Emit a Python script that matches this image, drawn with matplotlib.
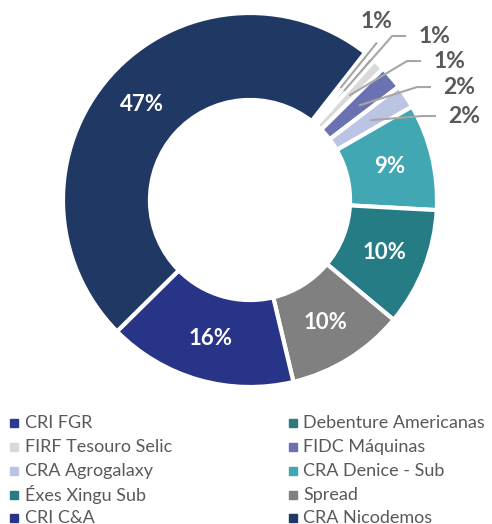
import numpy as np
import matplotlib.pyplot as plt
from matplotlib.lines import Line2D

# ---- data ----
names = ["CRI FGR", "Debenture Americanas", "FIRF Tesouro Selic", "FIDC Máquinas",
         "CRA Agrogalaxy", "CRA Denice - Sub", "Éxes Xingu Sub", "Spread",
         "CRI C&A", "CRA Nicodemos"]
values = [0.5, 0.5, 1.0, 2.0, 2.0, 9.0, 10.0, 10.0, 16.0, 47.0]
labels = ["1%", "1%", "1%", "2%", "2%", "9%", "10%", "10%", "16%", "47%"]
colors = ["#2B3990", "#2E7A7E", "#D9D9D9", "#6A72B2", "#BBC4E3",
          "#41A7B2", "#257C84", "#808080", "#283487", "#203864"]

# small slices get an outside label with a leader line
outside = [True, True, True, True, True, False, False, False, False, False]
outside_pos = [(0.679, 0.952), (0.985, 0.872), (1.065, 0.738), (1.118, 0.599), (1.145, 0.444)]

plt.rcParams["font.family"] = ["Lato", "DejaVu Sans"]

W, H = 492, 524
R = 187.0           # outer radius in pixels
cx, cy = 250, 200   # donut centre in pixels (from top-left)

fig = plt.figure(figsize=(W / 100, H / 100), dpi=100)
ax = fig.add_axes([0, 0, 1, 1])

wedges, _ = ax.pie(values, colors=colors, startangle=52, counterclock=False, radius=1.0,
                   wedgeprops=dict(width=0.465, edgecolor="white", linewidth=3.0))
ax.set_xlim(-cx / R, (W - cx) / R)
ax.set_ylim(-(H - cy) / R, cy / R)
ax.set_aspect("equal")
ax.axis("off")

gray_txt = "#595959"
line_col = "#A6A6A6"
k = 0
for w, lab, out in zip(wedges, labels, outside):
    mid = np.deg2rad((w.theta1 + w.theta2) / 2)
    if not out:
        ax.text(0.77 * np.cos(mid), 0.77 * np.sin(mid), lab, color="white",
                fontsize=16, fontweight="bold", ha="center", va="center")
        continue
    tx, ty = outside_pos[k]
    ax0, ay0 = 0.77 * np.cos(mid), 0.77 * np.sin(mid)
    if k == 0:
        ax.plot([ax0, tx], [ay0, ty - 0.11], color=line_col, lw=1.5, solid_capstyle="butt")
    else:
        ex = tx - 0.15
        ey = ty + 0.005
        ax.plot([ax0, ex - 0.075, ex], [ay0, ey, ey], color=line_col, lw=1.5,
                solid_capstyle="butt")
    ax.text(tx, ty, lab, color=gray_txt, fontsize=16.5, fontweight="bold",
            ha="center", va="center")
    k += 1

# ---- legend (two columns, row-wise order) ----
row_y = [423, 447, 471, 495, 518]
mark_x = [14, 293]
text_x = [25, 303]
for i, (name, c) in enumerate(zip(names, colors)):
    col, row = i % 2, i // 2
    fy = 1 - row_y[row] / H
    fig.add_artist(Line2D([mark_x[col] / W], [fy], marker="s", markersize=5.5,
                          color=c, linestyle="", transform=fig.transFigure))
    fig.text(text_x[col] / W, fy, name, fontsize=13, color=gray_txt,
             ha="left", va="center")

fig.savefig("out.png", dpi=100)
